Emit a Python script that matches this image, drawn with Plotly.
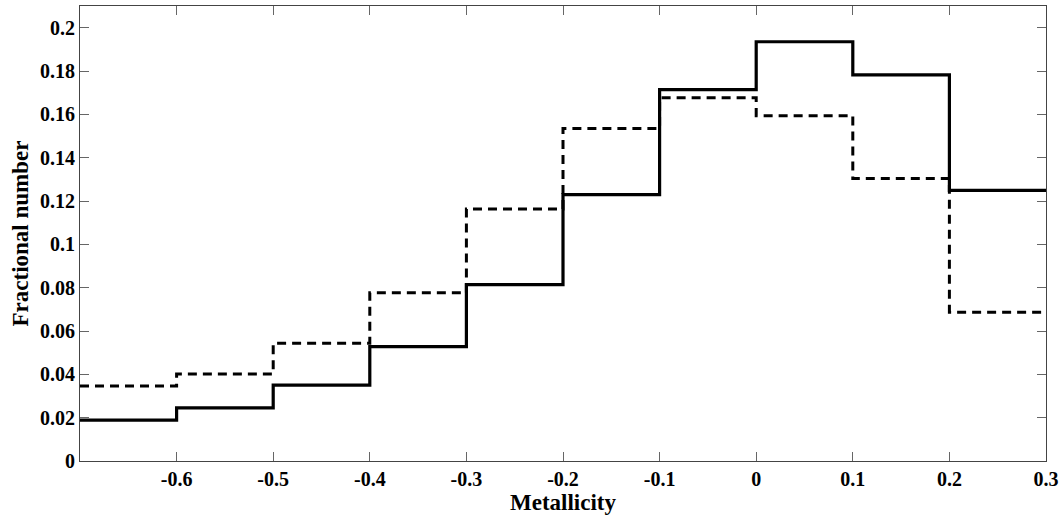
import plotly.graph_objects as go

bin_edges = [-0.7, -0.6, -0.5, -0.4, -0.3, -0.2, -0.1, 0.0, 0.1, 0.2, 0.3]
solid_vals = [0.0189, 0.0245, 0.0350, 0.0528, 0.0814, 0.1229, 0.1714, 0.1935, 0.1782, 0.1249]
dashed_vals = [0.0346, 0.0402, 0.0544, 0.0776, 0.1163, 0.1535, 0.1677, 0.1594, 0.1304, 0.0687]

x_tickvals = [-0.6, -0.5, -0.4, -0.3, -0.2, -0.1, 0.0, 0.1, 0.2, 0.3]
x_ticktext = ["-0.6", "-0.5", "-0.4", "-0.3", "-0.2", "-0.1", "0", "0.1", "0.2", "0.3"]
y_tickvals = [0, 0.02, 0.04, 0.06, 0.08, 0.1, 0.12, 0.14, 0.16, 0.18, 0.2]
y_ticktext = ["0", "0.02", "0.04", "0.06", "0.08", "0.1", "0.12", "0.14", "0.16", "0.18", "0.2"]

fig = go.Figure()
fig.add_trace(go.Scatter(x=bin_edges, y=dashed_vals + [dashed_vals[-1]], mode="lines",
                         line=dict(shape="hv", color="black", width=3, dash="9px,6px"),
                         showlegend=False))
fig.add_trace(go.Scatter(x=bin_edges, y=solid_vals + [solid_vals[-1]], mode="lines",
                         line=dict(shape="hv", color="black", width=3.2),
                         showlegend=False))

tfont = dict(family="Liberation Serif", size=20, color="black", weight="bold")
lfont = dict(family="Liberation Serif", size=23, color="black", weight="bold")
axis_common = dict(showgrid=False, zeroline=False, showline=True, linecolor="#444", linewidth=1,
                   mirror="ticks", ticks="inside", ticklen=9, tickcolor="#666", tickwidth=1,
                   tickfont=tfont, automargin=False)
fig.update_xaxes(range=[-0.7, 0.3], tickvals=x_tickvals, ticktext=x_ticktext,
                 title=dict(text="Metallicity", font=lfont, standoff=2), **axis_common)
fig.update_yaxes(range=[0, 0.21], tickvals=y_tickvals, ticktext=y_ticktext,
                 title=dict(text="Fractional number", font=lfont, standoff=4), **axis_common)
fig.update_layout(width=1062, height=517, margin=dict(l=80, r=16, t=6, b=56),
                  plot_bgcolor="white", paper_bgcolor="white",
                  font=dict(family="Liberation Serif", size=20, color="black", weight="bold"))
fig.write_html("out.html")
